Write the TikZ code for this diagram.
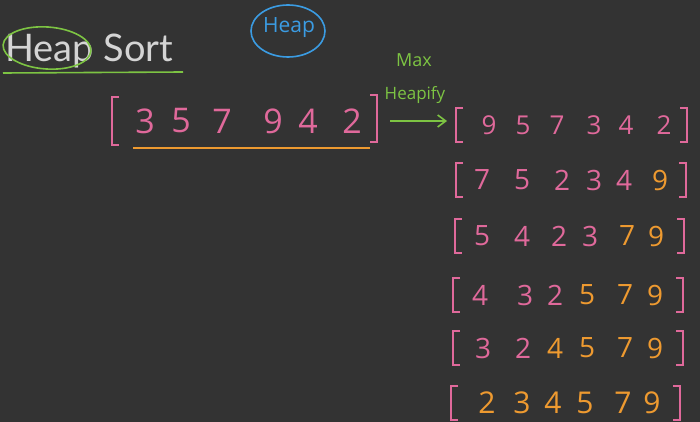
\documentclass[tikz,border=0pt]{standalone}
\usepackage{fontspec}
\setmainfont{Open Sans}
\newfontfamily\titlefont{Lato}
\usetikzlibrary{arrows.meta}
\definecolor{bg}{HTML}{333333}
\definecolor{pk}{HTML}{E0699B}
\definecolor{og}{HTML}{EE9A30}
\definecolor{gr}{HTML}{7DC443}
\definecolor{bl}{HTML}{3B9CE3}
\definecolor{tt}{HTML}{D4D4D4}
\newcommand{\hsrow}[6]{% #1 name, #2 y, #3 left x, #4 right x, #5 size, #6 list x/d/c
  \draw[br] (#3+7,#2-17) -- (#3,#2-17) -- (#3,#2+17) -- (#3+7,#2+17);
  \draw[br] (#4-7,#2-17) -- (#4,#2-17) -- (#4,#2+17) -- (#4-7,#2+17);
  \coordinate (#1L) at (#3,#2);
  \coordinate (#1R) at (#4,#2);
  \foreach \xx/\dd/\cc [count=\i] in {#6} {
    \node[dig, font=\fontsize{#5}{#5}\selectfont, text=\cc] (#1d\i) at (\xx,#2) {\dd};
  }
}
\begin{document}
\begin{tikzpicture}[x=1pt,y=-1pt,
  dig/.style={inner sep=0pt},
  br/.style={draw=pk, line width=1.7pt}]
\fill[bg] (0,0) rectangle (700,422);
\useasboundingbox (0,0) rectangle (700,422);
% title
\node[anchor=base west, text=tt, font=\titlefont\fontsize{38}{38}\selectfont, inner sep=0pt] (title) at (5,62) {Heap Sort};
\draw[gr, line width=1.6pt, rotate around={-4:(47,48)}] (47,48) ellipse [x radius=44, y radius=21];
\draw[gr, line width=1.6pt] (3,73) -- (183,72);
% blue heap
\node[text=bl, font=\fontsize{21}{21}\selectfont, inner sep=0pt] (heaplbl) at (289,28) {Heap};
\draw[bl, line width=1.6pt] (288,31) ellipse [x radius=37, y radius=26];
% top array
\draw[br] (119,97) -- (112,97) -- (112,145) -- (119,145);
\draw[br] (370,95) -- (377,95) -- (377,142) -- (370,142);
\coordinate (topR) at (390,121);
\foreach \xx/\dd [count=\i] in {145/3,181/5,222/7,273/9,308/4,352/2} {
  \node[dig, font=\fontsize{34}{34}\selectfont, text=pk] (t\i) at (\xx,121) {\dd};
}
\draw[og, line width=1.8pt] (133,148) -- (370,148);
% arrow
\coordinate (r1L) at (447,121);
\draw[gr, line width=1.6pt, -{Straight Barb[length=8pt,width=12pt]}] (topR) -- (r1L);
\node[text=gr, font=\fontsize{18}{18}\selectfont, inner sep=0pt] (maxlbl) at (414,60) {Max};
\node[text=gr, font=\fontsize{17}{17}\selectfont, inner sep=0pt] (heapifylbl) at (415,95) {Heapify};
% rows
\hsrow{ra}{125}{456}{687}{26}{489/9/pk,523/5/pk,557/7/pk,594/3/pk,626/4/pk,664/2/pk}
\hsrow{rb}{180}{456}{686}{28}{482/7/pk,522/5/pk,562/2/pk,594/3/pk,624/4/pk,660/9/og}
\hsrow{rc}{236}{455}{684}{28}{482/5/pk,522/4/pk,559/2/pk,590/3/pk,627/7/og,656/9/og}
\hsrow{rd}{295}{453}{683}{28}{480/4/pk,525/3/pk,555/2/pk,587/5/og,625/7/og,655/9/og}
\hsrow{re}{348}{453}{683}{28}{483/3/pk,523/2/pk,555/4/og,587/5/og,625/7/og,655/9/og}
\hsrow{rf}{403}{451}{680}{30}{487/2/og,522/3/og,553/4/og,585/5/og,623/7/og,652/9/og}
\end{tikzpicture}
\end{document}
